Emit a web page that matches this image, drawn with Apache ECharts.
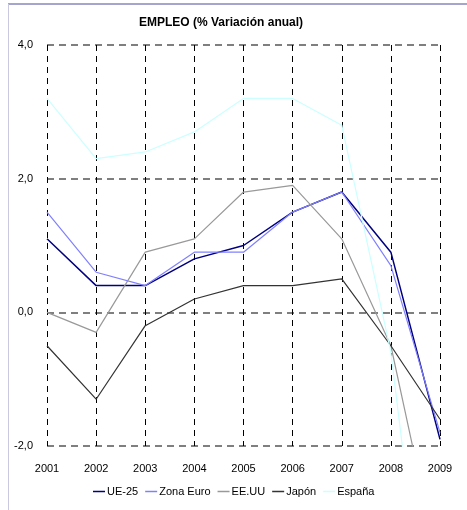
<!DOCTYPE html>
<html>
<head>
<meta charset="utf-8">
<script src="https://cdn.jsdelivr.net/npm/echarts@6/dist/echarts.min.js"></script>
<style>
  html, body { margin: 0; padding: 0; background: #fff; }
  #chart { width: 467px; height: 510px; }
</style>
</head>
<body>
<div id="chart"></div>
<script>
// años
var years = ['2001', '2002', '2003', '2004', '2005', '2006', '2007', '2008', '2009']
// % variación anual del empleo
var ue25 = [1.1, 0.4, 0.4, 0.8, 1.0, 1.5, 1.8, 0.9, -1.9]
var zonaEuro = [1.5, 0.6, 0.4, 0.9, 0.9, 1.5, 1.8, 0.7, -1.8]
var eeuu = [0.0, -0.3, 0.9, 1.1, 1.8, 1.9, 1.1, -0.5, -3.9]
var japon = [-0.5, -1.3, -0.2, 0.2, 0.4, 0.4, 0.5, -0.5, -1.6]
var espana = [3.2, 2.3, 2.4, 2.7, 3.2, 3.2, 2.8, -0.6, -6.6]

var font = 'Liberation Sans, Arial, sans-serif'

function serie (name, data, color, width) {
  return {
    name: name,
    type: 'line',
    data: data,
    symbol: 'none',
    clip: true,
    lineStyle: { color: color, width: width },
    itemStyle: { color: color }
  }
}

var myChart = echarts.init(document.getElementById('chart'))
var option = {
  backgroundColor: '#fff',
  animation: false,
  title: {
    text: 'EMPLEO (% Variación anual)',
    left: 134,
    top: 12,
    textStyle: { fontFamily: font, fontSize: 12, fontWeight: 'bold', color: '#000' }
  },
  legend: {
    bottom: 8,
    left: 88,
    icon: 'rect',
    itemWidth: 12,
    itemHeight: 1.5,
    itemGap: 7,
    textStyle: { fontFamily: font, fontSize: 11, color: '#000', padding: [0, 0, 0, -3] },
    data: ['UE-25', 'Zona Euro', 'EE.UU', 'Japón', 'España']
  },
  grid: { left: 47, right: 27, top: 45, bottom: 64 },
  xAxis: {
    type: 'category',
    boundaryGap: false,
    data: years,
    axisLine: { show: false },
    axisTick: { show: false },
    axisLabel: { fontFamily: font, fontSize: 11, color: '#000', margin: 17 },
    splitLine: { show: true, lineStyle: { color: '#000', type: [6, 5], width: 1 } }
  },
  yAxis: {
    type: 'value',
    min: -2,
    max: 4,
    interval: 2,
    axisLine: { show: false },
    axisTick: { show: false },
    axisLabel: {
      fontFamily: font, fontSize: 11, color: '#000', margin: 14,
      formatter: function (v) { return v.toFixed(1).replace('.', ',') }
    },
    splitLine: { show: true, lineStyle: { color: '#555', type: [7, 5], width: 1.5 } }
  },
  series: [
    serie('UE-25', ue25, '#000080', 1.5),
    serie('Zona Euro', zonaEuro, '#8080ff', 1.2),
    serie('EE.UU', eeuu, '#999999', 1.2),
    serie('Japón', japon, '#333333', 1.2),
    serie('España', espana, '#ccffff', 1.2)
  ],
  graphic: [
    { type: 'line', shape: { x1: 8, y1: 4, x2: 467, y2: 4 }, style: { stroke: '#4a4a9a', lineWidth: 1 } },
    { type: 'line', shape: { x1: 8.5, y1: 4, x2: 8.5, y2: 510 }, style: { stroke: '#c8c8e0', lineWidth: 1 } }
  ]
}
myChart.setOption(option)
</script>
</body>
</html>
